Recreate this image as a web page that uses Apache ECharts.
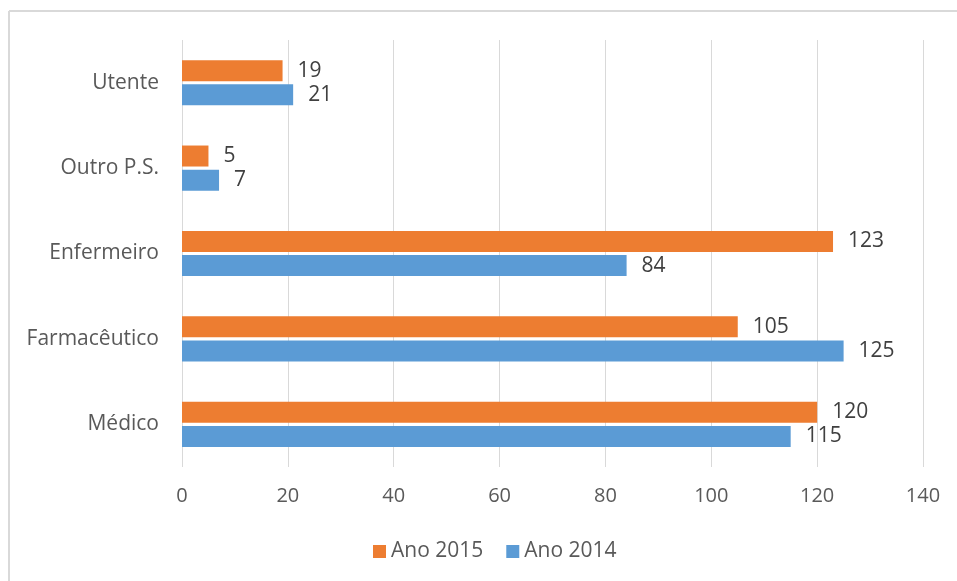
<!DOCTYPE html>
<html>
<head>
<meta charset="utf-8">
<script src="https://cdn.jsdelivr.net/npm/echarts@6/dist/echarts.min.js"></script>
<style>
html,body{margin:0;padding:0;background:#fff;}
#chart{width:957px;height:581px;}
</style>
</head>
<body>
<div id="chart"></div>
<script>
const categories = ['Médico', 'Farmacêutico', 'Enfermeiro', 'Outro P.S.', 'Utente'];
const ano2015 = [120, 105, 123, 5, 19];
const ano2014 = [115, 125, 84, 7, 21];
const xTicks = { min: 0, max: 140, interval: 20 };

const FONT = '"Open Sans", "Noto Sans", sans-serif';
const chart = echarts.init(document.getElementById('chart'));
chart.setOption({
  animation: false,
  backgroundColor: '#ffffff',
  textStyle: { fontFamily: FONT },
  graphic: [
    { type: 'line', shape: { x1: 9, y1: 11, x2: 957, y2: 11 }, style: { stroke: '#d9d9d9', lineWidth: 2 } },
    { type: 'line', shape: { x1: 9, y1: 11, x2: 9, y2: 581 }, style: { stroke: '#d9d9d9', lineWidth: 2 } }
  ],
  grid: { left: 182, right: 34, top: 40, bottom: 114, containLabel: false },
  legend: {
    data: ['Ano 2015', 'Ano 2014'],
    top: 536,
    left: 368,
    icon: 'rect',
    itemWidth: 13,
    itemHeight: 13,
    itemGap: 23,
    textStyle: { fontFamily: FONT, fontSize: 21, color: '#595959' }
  },
  xAxis: {
    type: 'value',
    min: xTicks.min, max: xTicks.max, interval: xTicks.interval,
    axisLine: { show: false },
    axisTick: { show: false },
    splitLine: { lineStyle: { color: '#d9d9d9', width: 1 } },
    axisLabel: { fontFamily: FONT, fontSize: 20, color: '#595959', margin: 19 }
  },
  yAxis: {
    type: 'category',
    data: categories,
    axisLine: { show: false },
    axisTick: { show: false },
    axisLabel: { fontFamily: FONT, fontSize: 21, color: '#595959', margin: 23, padding: [4, 0, 0, 0] }
  },
  series: [
    {
      name: 'Ano 2015', type: 'bar', data: ano2015,
      barWidth: 21, barGap: '15%',
      itemStyle: { color: '#ed7d31' },
      label: { show: true, position: 'right', distance: 15, fontFamily: FONT, fontSize: 21, color: '#404040', padding: [3, 0, 0, 0] }
    },
    {
      name: 'Ano 2014', type: 'bar', data: ano2014,
      barWidth: 21, barGap: '15%',
      itemStyle: { color: '#5b9bd5' },
      label: { show: true, position: 'right', distance: 15, fontFamily: FONT, fontSize: 21, color: '#404040', padding: [3, 0, 0, 0] }
    }
  ]
});
</script>
</body>
</html>
